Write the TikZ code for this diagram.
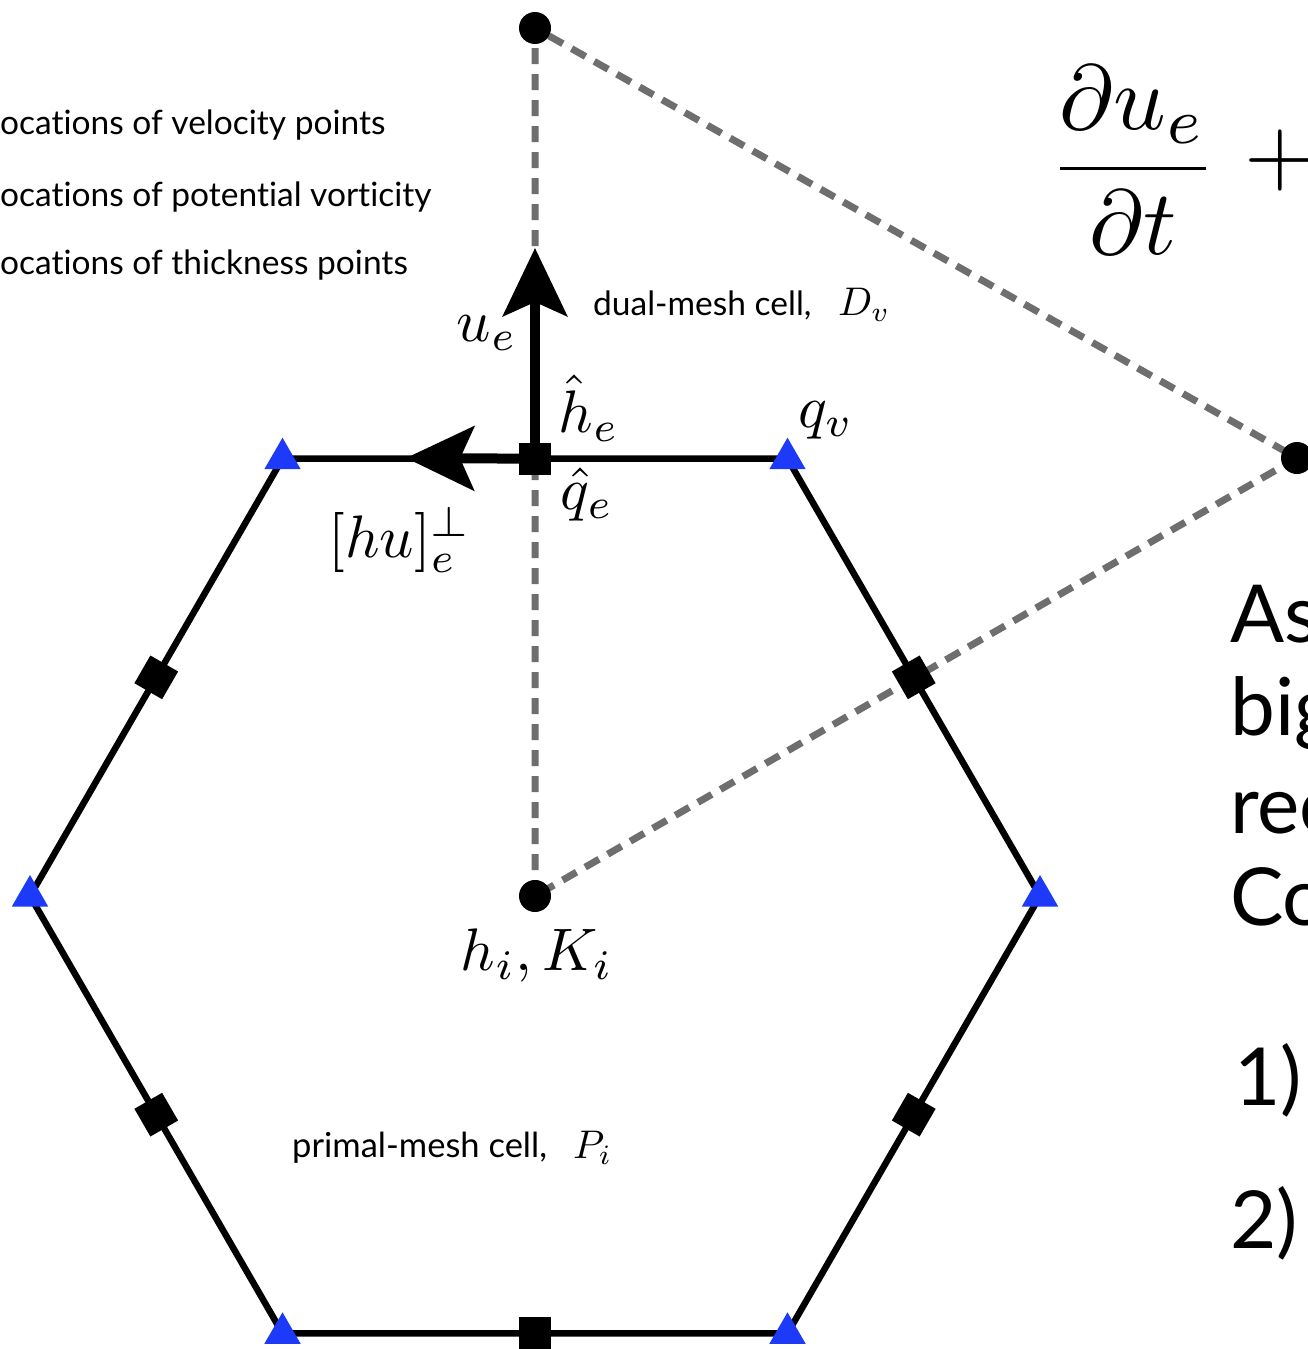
\documentclass[tikz,border=0pt]{standalone}
\usepackage{graphicx}
\usepackage{fontspec}
\setmainfont{Lato}[Ligatures=NoCommon]
\usetikzlibrary{arrows.meta,shapes.geometric,calc}
\definecolor{triblue}{RGB}{28,58,248}
\definecolor{dashgray}{RGB}{110,110,110}
\newcommand{\scaledmath}[2]{\scalebox{#1}{$#2$}}
\tikzset{
  hexedge/.style={line width=6.5pt, black},
  dualdash/.style={draw=dashgray, line width=7pt, dash pattern=on 16pt off 10pt},
  dotnode/.style={circle, fill=black, inner sep=0pt, minimum size=32pt},
  vtri/.style={regular polygon, regular polygon sides=3, fill=triblue, inner sep=0pt, minimum size=42pt},
  edgesq/.style={rectangle, fill=black, inner sep=0pt, minimum size=32pt},
  bigarrow/.style={line width=10pt, -{Stealth[length=68pt,width=64pt,inset=14pt]}},
  sanslbl/.style={inner sep=0pt, font=\fontsize{33.5}{40}\selectfont},
  mathlbl/.style={inner sep=0pt},
  bigsans/.style={inner sep=0pt, anchor=base west, font=\fontsize{80}{96}\selectfont},
}
\begin{document}
\begin{tikzpicture}[x=1pt,y=-1pt]
\useasboundingbox (0,0) rectangle (1307,1349);
% hexagon vertices and centres
\coordinate (v1) at (282.5,458.7);
\coordinate (v2) at (787.5,458.7);
\coordinate (v3) at (1040,896);
\coordinate (v4) at (787.5,1333.3);
\coordinate (v5) at (282.5,1333.3);
\coordinate (v6) at (30,896);
\coordinate (c) at (535,896);
\coordinate (ctop) at (535,28);
\coordinate (cright) at (1297,458);
\coordinate (m12) at ($(v1)!0.5!(v2)$);
\coordinate (uetip) at (535,248);
\coordinate (hutip) at (406,458);
% dual-mesh triangle
\draw[dualdash] (c) -- (ctop) -- (cright) -- (c);
% primal hexagon
\draw[hexedge] (v1) -- (v2) -- (v3) -- (v4) -- (v5) -- (v6) -- cycle;
% vectors
\draw[bigarrow] (m12) -- (uetip);
\draw[bigarrow] (m12) -- (hutip);
% edge points
\node[edgesq] (s12) at (m12) {};
\node[edgesq, rotate=-60] (s23) at ($(v2)!0.5!(v3)$) {};
\node[edgesq, rotate=60] (s34) at ($(v3)!0.5!(v4)$) {};
\node[edgesq] (s45) at ($(v4)!0.5!(v5)$) {};
\node[edgesq, rotate=-60] (s56) at ($(v5)!0.5!(v6)$) {};
\node[edgesq, rotate=60] (s61) at ($(v6)!0.5!(v1)$) {};
% vertex points
\foreach \v in {1,...,6} { \node[vtri] (t\v) at (v\v) {}; }
% cell centres
\node[dotnode] (dc) at (c) {};
\node[dotnode] (dtop) at (ctop) {};
\node[dotnode] (dright) at (cright) {};
% legend
\node[sanslbl, anchor=west] (leg1) at (0,125) {ocations of velocity points};
\node[sanslbl, anchor=west] (leg2) at (0,197) {ocations of potential vorticity};
\node[sanslbl, anchor=west] (leg3) at (0,265) {ocations of thickness points};
% labels
\node[mathlbl] (lue) at (487,333) {\scaledmath{6}{u_e}};
\node[mathlbl] (lhe) at (589,408) {\scaledmath{6}{\hat{h}_e}};
\node[mathlbl] (lqv) at (826,420) {\scaledmath{6}{q_v}};
\node[mathlbl] (lqe) at (587,494) {\scaledmath{6}{\hat{q}_e}};
\node[mathlbl] (lhu) at (400,540) {\scaledmath{6}{[hu]_e^{\perp}}};
\node[mathlbl] (lhk) at (537,955) {\scaledmath{6}{h_i, K_i}};
\node[sanslbl, anchor=west] (ldual) at (593,305) {dual-mesh cell,};
\node[mathlbl, anchor=west] (ldv) at (838,305) {\scaledmath{4}{D_v}};
\node[sanslbl, anchor=west, font=\fontsize{34.5}{41}\selectfont] (lprim) at (292,1148) {primal-mesh cell,};
\node[mathlbl, anchor=west] (lpi) at (573,1148) {\scaledmath{4}{P_i}};
% equation
\node[inner sep=0pt] (frac) at (1133,160) {\scaledmath{9.2}{\displaystyle\frac{\partial u_e}{\partial t}}};
\node[inner sep=0pt, anchor=west] (plus) at (1244,160) {\scaledmath{9.2}{+}};
% right-hand text
\node[bigsans] (r1) at (1230,642) {As};
\node[bigsans] (r2) at (1230,735) {big};
\node[bigsans] (r3) at (1230,833) {rec};
\node[bigsans] (r4) at (1230,925) {Co};
\node[bigsans] (r5) at (1234,1105) {1)};
\node[bigsans] (r6) at (1230,1248) {2)};
\end{tikzpicture}
\end{document}
